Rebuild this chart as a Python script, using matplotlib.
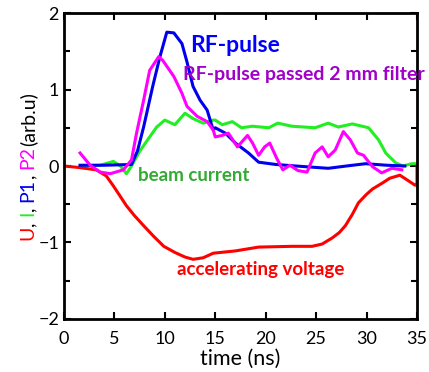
import matplotlib.pyplot as plt
from matplotlib.font_manager import FontProperties
from matplotlib.ticker import MultipleLocator

plt.rcParams['font.family'] = ['Lato', 'DejaVu Sans']

# accelerating voltage U
t_u = [0, 1.5, 3.2, 4.2, 4.9, 5.6, 6.2, 7.0, 7.9, 8.9, 9.9, 11.0, 12.0, 12.8, 13.8, 14.8,
       17.0, 19.3, 22.6, 24.6, 25.6, 26.6, 27.3, 27.9, 28.6, 29.2, 30.0, 30.6, 31.6,
       32.3, 33.3, 34.0, 34.8, 35.0, 35.0]
u = [0, -0.02, -0.05, -0.13, -0.26, -0.40, -0.52, -0.65, -0.78, -0.92, -1.05, -1.13, -1.19, -1.22,
     -1.2, -1.14, -1.11, -1.06, -1.05, -1.05, -1.02, -0.94, -0.87, -0.78, -0.63, -0.48, -0.37, -0.3,
     -0.22, -0.16, -0.12, -0.18, -0.25, -0.25, 0.0]

# beam current I
t_i = [1.6, 3.6, 4.9, 5.6, 6.2, 6.7, 7.5, 8.5, 9.2, 10.0, 11.0, 12.0, 12.8, 13.8, 14.8, 15.0,
       15.7, 16.7, 17.6, 18.7, 20.3, 21.2, 22.6, 24.9, 26.2, 27.2, 28.6, 30.2, 31.2, 31.9,
       32.9, 33.6, 34.5, 35.0]
i_beam = [0.0, 0.01, 0.06, 0.0, -0.1, 0.0, 0.19, 0.38, 0.51, 0.6, 0.54, 0.69, 0.62, 0.56, 0.6, 0.6,
          0.54, 0.58, 0.5, 0.52, 0.5, 0.56, 0.52, 0.5, 0.56, 0.51, 0.55, 0.5, 0.34, 0.17,
          0.04, 0.0, 0.03, 0.03]

# RF-pulse P1
t_p1 = [1.6, 4.0, 6.7, 7.3, 7.9, 8.8, 9.5, 10.2, 10.9, 11.7, 12.2, 12.8, 13.5, 14.2, 14.8,
        15.0, 16.0, 17.0, 18.3, 19.3, 21.0, 23.0, 26.2, 28.0, 29.9, 32.0, 33.8]
p1 = [0.01, 0.01, 0.02, 0.2, 0.51, 1.04, 1.42, 1.75, 1.74, 1.6, 1.36, 1.04, 0.86, 0.73, 0.47,
      0.5, 0.43, 0.3, 0.17, 0.05, 0.02, 0.0, -0.03, 0.0, 0.03, 0.01, 0.0]

# RF-pulse passed 2 mm filter P2
t_p2 = [1.6, 2.6, 3.6, 4.6, 5.9, 6.7, 7.2, 7.9, 8.5, 9.4, 9.8, 10.9, 11.7, 12.2, 13.2, 14.2,
        14.8, 15.0, 15.7, 16.3, 17.2, 17.8, 18.2, 18.7, 19.3, 19.9, 20.4, 21.1, 21.7, 22.4,
        23.2, 24.1, 24.9, 25.6, 26.2, 26.9, 27.7, 28.4, 29.1, 29.7, 30.6, 31.5, 32.5, 33.5]
p2 = [0.17, 0.01, -0.08, -0.1, -0.05, 0.08, 0.43, 0.86, 1.25, 1.43, 1.38, 1.17, 0.95, 0.78, 0.65,
      0.58, 0.47, 0.38, 0.4, 0.43, 0.25, 0.34, 0.4, 0.3, 0.14, 0.25, 0.3, 0.1, -0.05, 0.01,
      -0.06, -0.08, 0.17, 0.25, 0.12, 0.21, 0.45, 0.34, 0.17, 0.14, -0.01, -0.09, -0.03, -0.05]

fig = plt.figure(figsize=(4.29, 3.72), dpi=100)
ax = fig.add_axes([0.149, 0.1425, 0.823, 0.8225])

lw = 2.2
ax.plot(t_i, i_beam, color='#22ee22', lw=lw)
ax.plot(t_u, u, color='#ff0000', lw=lw)
ax.plot(t_p1, p1, color='#0000ee', lw=lw)
ax.plot(t_p2, p2, color='#ff00ff', lw=lw)

ax.set_xlim(0, 35)
ax.set_ylim(-2, 2)
ax.xaxis.set_major_locator(MultipleLocator(5))
ax.yaxis.set_major_locator(MultipleLocator(1))
ax.yaxis.set_minor_locator(MultipleLocator(0.5))
ax.tick_params(which='both', direction='in', top=True, right=True, width=1.5, labelsize=13)
ax.tick_params(which='major', length=5)
ax.tick_params(which='minor', length=4)
ax.tick_params(axis='x', pad=9)
for s in ax.spines.values():
    s.set_linewidth(2)

ax.set_xlabel('time (ns)', fontsize=15.5, labelpad=1)

ax.text(12.5, 1.57, 'RF-pulse', color='#0000ff', fontsize=16.5, fontweight='bold', va='center')
ax.text(11.8, 1.19, 'RF-pulse passed 2 mm filter', color='#a000c8', fontsize=14,
        fontweight='bold', va='center', clip_on=False)
ax.text(7.3, -0.12, 'beam current', color='#33aa33', fontsize=13.5, fontweight='bold', va='center')
ax.text(11.2, -1.35, 'accelerating voltage', color='#ff0000', fontsize=13.5, fontweight='bold',
        va='center')

# multi-coloured y label, pieces placed along the pen advance of the text before them
parts = [('U', '#ff0000'), (', ', 'black'), ('I', '#22ee22'), (', ', 'black'),
         ('P1', '#0000ee'), (', ', 'black'), ('P2', '#ff00ff'), (' (arb.u)', 'black')]
fp = FontProperties(family=['Lato', 'DejaVu Sans'], size=14)
fig.canvas.draw()
renderer = fig.canvas.get_renderer()


def ink_width(s):
    return renderer.get_text_width_height_descent(s, fp, ismath=False)[0]


bar2 = ink_width('||')
bar_step = bar2 - ink_width('|')
y_start = 372 - 240
lsb0 = ink_width('|' + parts[0][0]) - ink_width(parts[0][0]) - bar_step
prefix = ''
for txt, col in parts:
    pen = ink_width('|' + prefix + '|') - bar2 if prefix else 0
    lsb = ink_width('|' + txt) - ink_width(txt.strip() if txt.strip() == txt else txt) - bar_step
    pos = y_start + pen + lsb - lsb0
    fig.text(28 / 429, pos / 372, txt.strip(), color=col, fontproperties=fp, rotation=90,
             ha='left', va='center', rotation_mode='anchor')
    prefix += txt

fig.savefig('out.png', dpi=100)
